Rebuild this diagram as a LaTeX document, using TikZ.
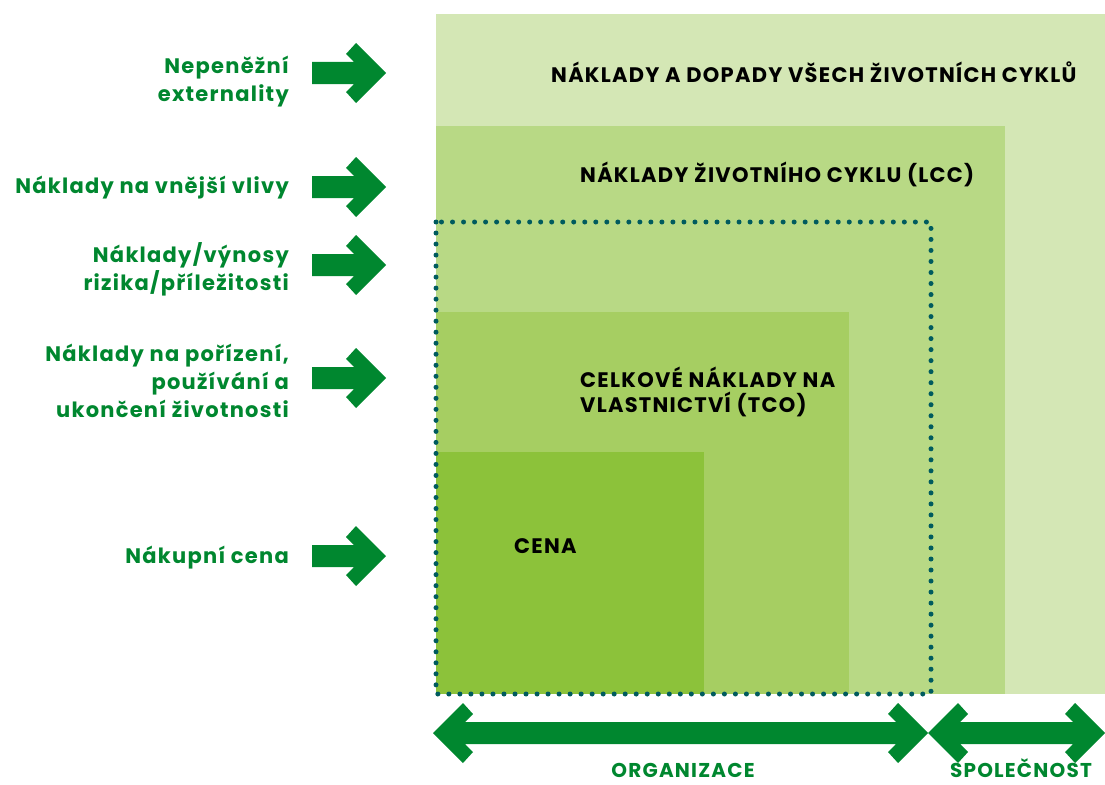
\documentclass[tikz,border=0pt]{standalone}
\usepackage{fontspec}
\setmainfont{Poppins}[LetterSpace=6]
\usetikzlibrary{calc}
\definecolor{cA}{HTML}{D4E7B5}
\definecolor{cB}{HTML}{B8D985}
\definecolor{cC}{HTML}{A6CE62}
\definecolor{cD}{HTML}{8CC23A}
\definecolor{agreen}{HTML}{00872F}
\definecolor{dotc}{HTML}{005B5E}
\tikzset{
  leftlbl/.style={anchor=base east,align=right,text=agreen,font=\fontsize{21}{28}\selectfont\bfseries,inner sep=0pt},
  boxlbl/.style={anchor=base west,align=left,text=black,font=\fontsize{21}{25}\selectfont\bfseries,inner sep=0pt},
  botlbl/.style={anchor=base,text=agreen,font=\fontsize{20}{22}\selectfont\bfseries,inner sep=0pt,text depth=0pt},
  blockarrow/.style={fill=agreen,draw=none},
  dotbox/.style={draw=dotc,line width=5pt,line cap=round,dash pattern=on 0pt off 11.02pt}
}
% right-pointing arrow: #1 tail x, #2 tip x, #3 y
\newcommand{\rarr}[3]{%
  \fill[blockarrow] (#1,#3-11) -- ($(#2,#3)+(-32,-11)$) -- ($(#2,#3)+(-40,-19)$) -- ($(#2,#3)+(-30,-30)$) -- (#2,#3)
   -- ($(#2,#3)+(-30,30)$) -- ($(#2,#3)+(-40,19)$) -- ($(#2,#3)+(-32,11)$) -- (#1,#3+11) -- cycle;}
% double arrow: #1 left tip, #2 right tip, #3 y
\newcommand{\darr}[3]{%
  \fill[blockarrow] (#1,#3)
   -- ($(#1,#3)+(30,-30)$) -- ($(#1,#3)+(40,-19)$) -- ($(#1,#3)+(32,-11)$)
   -- ($(#2,#3)+(-32,-11)$) -- ($(#2,#3)+(-40,-19)$) -- ($(#2,#3)+(-30,-30)$) -- (#2,#3)
   -- ($(#2,#3)+(-30,30)$) -- ($(#2,#3)+(-40,19)$) -- ($(#2,#3)+(-32,11)$)
   -- ($(#1,#3)+(32,11)$) -- ($(#1,#3)+(40,19)$) -- ($(#1,#3)+(30,30)$) -- cycle;}
\begin{document}
\begin{tikzpicture}[x=1pt,y=-1pt]
\useasboundingbox (0,0) rectangle (1105,784);
% boxes
\fill[cA] (436,14) rectangle (1105,694);
\fill[cB] (436,126) rectangle (1005,694);
\fill[cC] (436,312) rectangle (849,694);
\fill[cD] (436,452) rectangle (704,694);
\draw[dotbox] (436,222) rectangle (931,694);
% box labels
\node[boxlbl] (l1) at (551,82) {NÁKLADY A DOPADY VŠECH ŽIVOTNÍCH CYKLŮ};
\node[boxlbl] (l2) at (580,182) {NÁKLADY ŽIVOTNÍHO CYKLU (LCC)};
\node[boxlbl] (l3) at (580,412) {CELKOVÉ NÁKLADY NA\\VLASTNICTVÍ (TCO)};
\node[boxlbl] (l4) at (514,553) {CENA};
% left labels
\node[leftlbl] (t1) at (289,101) {Nepeněžní\\externality};
\node[leftlbl] (t2) at (289,193) {Náklady na vnější vlivy};
\node[leftlbl] (t3) at (289,290) {Náklady/výnosy\\rizika/příležitosti};
\node[leftlbl] (t4) at (289,417) {Náklady na pořízení,\\používání a\\ukončení životnosti};
\node[leftlbl] (t5) at (289,563) {Nákupní cena};
% left arrows
\rarr{312}{386}{73}
\rarr{312}{386}{187}
\rarr{312}{386}{265}
\rarr{312}{386}{378}
\rarr{312}{386}{556}
% bottom arrows
\darr{433}{928}{733}
\darr{928}{1105}{733}
\node[botlbl] (b1) at (683,777) {ORGANIZACE};
\node[botlbl] (b2) at (1021,777) {SPOLEČNOST};
\end{tikzpicture}
\end{document}
